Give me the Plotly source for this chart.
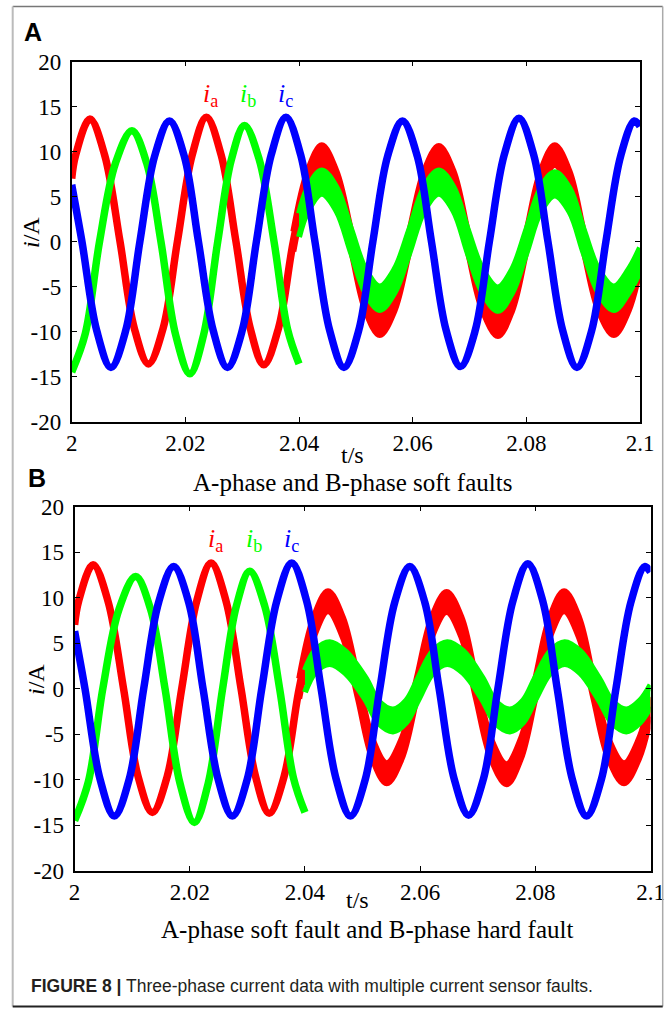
import plotly.graph_objects as go

# ---------------- data ----------------
# ia (phase A current) -- same in both panels; soft fault after ~2.039 s
IA_PRE_T = [2.0000, 2.0007, 2.0032, 2.0058, 2.0085, 2.0110, 2.0135, 2.0161, 2.0186,
            2.0212, 2.0237, 2.0263, 2.0289, 2.0314, 2.0338, 2.0364, 2.0390]
IA_PRE = [7.0, 9.6, 13.6, 9.6, 0.0, -9.6, -13.6, -9.6, 0.0,
          9.6, 13.8, 9.6, 0.0, -9.6, -13.7, -9.6, 0.0]
IA_POST_T = [2.0390, 2.0415, 2.0440, 2.0466, 2.0492, 2.0517, 2.0542, 2.0568, 2.0594,
             2.0620, 2.0646, 2.0672, 2.0697, 2.0723, 2.0750, 2.0775, 2.0800,
             2.0825, 2.0850, 2.0876, 2.0901, 2.0927, 2.0954, 2.0980, 2.1000]
IA_POST = [0.0, 6.7, 9.6, 6.7, 0.0, -6.6, -9.3, -6.6, 0.0,
           6.7, 9.5, 6.7, 0.0, -6.6, -9.4, -6.6, 0.0,
           6.7, 9.6, 6.7, 0.0, -6.6, -9.3, -6.6, -2.0]

# ib (phase B current) before the fault -- same in both panels
IB_PRE_T = [2.0000, 2.0024, 2.0049, 2.0077, 2.0106, 2.0132, 2.0157, 2.0183, 2.0208,
            2.0232, 2.0257, 2.0281, 2.0304, 2.0330, 2.0356, 2.0380, 2.0400]
IB_PRE = [-14.5, -10.2, 0.0, 8.7, 12.3, 8.7, 0.0, -10.4, -14.7,
          -10.4, 0.0, 9.1, 12.9, 9.1, 0.0, -9.8, -13.6]

# ib after the fault, panel A (soft fault)
IB_A_POST_T = [2.0400, 2.0415, 2.0440, 2.0466, 2.0492, 2.0517, 2.0542, 2.0568, 2.0594,
               2.0620, 2.0646, 2.0672, 2.0697, 2.0723, 2.0750, 2.0775, 2.0800,
               2.0825, 2.0850, 2.0876, 2.0901, 2.0927, 2.0954, 2.0980, 2.1000]
IB_A_POST = [1.8, 4.6, 6.6, 4.7, 0.0, -4.4, -6.3, -4.4, 0.0,
             4.7, 6.6, 4.7, 0.0, -4.4, -6.4, -4.4, 0.0,
             4.6, 6.4, 4.6, 0.0, -4.4, -6.3, -4.4, -2.0]

# ib after the fault, panel B (hard fault)
IB_B_POST_T = [2.0400, 2.0418, 2.0443, 2.0470, 2.0505, 2.0528, 2.0553, 2.0576, 2.0597,
               2.0622, 2.0647, 2.0675, 2.0708, 2.0731, 2.0756, 2.0779, 2.0800,
               2.0826, 2.0851, 2.0878, 2.0910, 2.0934, 2.0958, 2.0982, 2.1000]
IB_B_POST = [0.8, 3.0, 3.9, 2.9, 0.0, -2.6, -3.5, -2.5, 0.0,
             2.9, 3.9, 2.9, 0.0, -2.6, -3.5, -2.5, 0.0,
             2.9, 3.9, 2.9, 0.0, -2.6, -3.5, -2.5, -0.8]

# ic (phase C current, healthy) -- same in both panels
IC_T = [2.0000, 2.0018, 2.0044, 2.0069, 2.0095, 2.0120, 2.0146, 2.0172, 2.0198,
        2.0223, 2.0249, 2.0274, 2.0300, 2.0325, 2.0351, 2.0377, 2.0403,
        2.0428, 2.0454, 2.0479, 2.0505, 2.0530, 2.0556, 2.0582, 2.0608,
        2.0633, 2.0659, 2.0684, 2.0710, 2.0735, 2.0761, 2.0787, 2.0813,
        2.0838, 2.0864, 2.0889, 2.0915, 2.0940, 2.0966, 2.0990, 2.1000]
IC = [6.3, 0.0, -9.9, -14.0, -9.9, 0.0, 9.5, 13.4, 9.5,
      0.0, -9.9, -14.0, -9.9, 0.0, 9.6, 13.8, 9.6,
      0.0, -9.9, -14.0, -9.9, 0.0, 9.5, 13.4, 9.5,
      0.0, -9.9, -13.9, -9.9, 0.0, 9.6, 13.7, 9.6,
      0.0, -9.9, -14.0, -9.9, 0.0, 9.5, 13.4, 12.8]

# half-width of the noisy band of the faulted signals (A)
BAND_IA = 1.1
BAND_IB_A = 1.3
BAND_IB_B = 1.2

X_TICKS = [2.0, 2.02, 2.04, 2.06, 2.08, 2.1]
X_TICK_LABELS = ["2", "2.02", "2.04", "2.06", "2.08", "2.1"]
Y_TICKS = [-20, -15, -10, -5, 0, 5, 10, 15, 20]
Y_TICK_LABELS = ["-20", "-15", "-10", "-5", "0", "5", "10", "15", "20"]

SUBTITLES = ["A-phase and B-phase soft faults", "A-phase soft fault and B-phase hard fault"]
CAPTION = "<b>FIGURE 8 |</b> Three-phase current data with multiple current sensor faults."

# ---------------- styling ----------------
W, H = 668, 1009
RED, GREEN, BLUE = "#ff0000", "#00ff00", "#0000ff"
SERIF = "Liberation Serif"
SANS = "Liberation Sans"
CLEAN_W = 7.5
BAND_W = 6


def px(x):
    return x / W


def py(y):
    return 1 - y / H


# panel boxes in pixels: left, right, top, bottom
PANELS = [(71.7, 640.0, 61.5, 421.5), (74.6, 650.5, 506.5, 870.7)]

fig = go.Figure()


def clean(xa, ya, t, v, color):
    fig.add_trace(go.Scatter(x=t, y=v, mode="lines", xaxis=xa, yaxis=ya,
                             line=dict(color=color, width=CLEAN_W, shape="spline"),
                             showlegend=False, hoverinfo="skip"))


def band(xa, ya, t, v, half, color):
    up = [a + half for a in v]
    lo = [a - half for a in v]
    fig.add_trace(go.Scatter(x=t, y=up, mode="lines", xaxis=xa, yaxis=ya,
                             line=dict(color=color, width=BAND_W, shape="spline"),
                             showlegend=False, hoverinfo="skip"))
    fig.add_trace(go.Scatter(x=t, y=lo, mode="lines", xaxis=xa, yaxis=ya, fill="tonexty",
                             fillcolor=color,
                             line=dict(color=color, width=BAND_W, shape="spline"),
                             showlegend=False, hoverinfo="skip"))


for xa, ya, ib_t, ib_v, ib_band in [("x", "y", IB_A_POST_T, IB_A_POST, BAND_IB_A),
                                     ("x2", "y2", IB_B_POST_T, IB_B_POST, BAND_IB_B)]:
    # continuous red centre line underneath, noisy band over the faulted part
    clean(xa, ya, IA_PRE_T + IA_POST_T[1:], IA_PRE + IA_POST[1:], RED)
    band(xa, ya, IA_POST_T, IA_POST, BAND_IA, RED)
    clean(xa, ya, IB_PRE_T, IB_PRE, GREEN)
    band(xa, ya, ib_t, ib_v, ib_band, GREEN)
    clean(xa, ya, IC_T, IC, BLUE)

TICKFONT = dict(family=SERIF, size=23, color="black")
axis_common = dict(ticks="inside", ticklen=5, tickwidth=1.2, tickcolor="black",
                   showline=True, linecolor="black", linewidth=1.8, mirror="ticks",
                   showgrid=False, zeroline=False, automargin=False,
                   tickfont=TICKFONT)

layout = dict(width=W, height=H, margin=dict(l=0, r=0, t=0, b=0, autoexpand=False),
              paper_bgcolor="white", plot_bgcolor="white", showlegend=False,
              font=dict(family=SERIF, size=23, color="black"))

annotations = []


def note(x, y, text, font, xref="paper", yref="paper", xanchor="center", **kw):
    annotations.append(dict(x=x, y=y, xref=xref, yref=yref, showarrow=False, text=text,
                            xanchor=xanchor, yanchor="middle", font=font, **kw))


for i, (l, r, t, b) in enumerate(PANELS):
    sfx = "" if i == 0 else "2"
    layout["xaxis" + sfx] = dict(axis_common, domain=[px(l), px(r)], range=[2.0, 2.1],
                                 tickmode="array", tickvals=X_TICKS, ticktext=X_TICK_LABELS,
                                 anchor="y" + sfx)
    layout["yaxis" + sfx] = dict(axis_common, domain=[py(b), py(t)], range=[-20, 20],
                                 tickmode="array", tickvals=Y_TICKS, ticktext=Y_TICK_LABELS,
                                 anchor="x" + sfx, ticklabelstandoff=4)
    for lab, xv, col in [("a", 2.0245, RED), ("b", 2.0311, GREEN), ("c", 2.0376, BLUE)]:
        note(xv, 16.3, "<i>i</i><sub>%s</sub>" % lab,
             dict(family=SERIF, size=26, color=col), xref="x" + sfx, yref="y" + sfx)

# panel letters
note(px(33), py(32), "<b>A</b>", dict(family=SANS, size=25, color="black"))
note(px(37), py(478), "<b>B</b>", dict(family=SANS, size=25, color="black"))
# axis titles
for (xc, yc) in [(352, 455), (358, 900)]:
    note(px(xc), py(yc), "t/s", dict(family=SERIF, size=24, color="black"))
for (xc, yc) in [(31, 233), (36, 680)]:
    note(px(xc), py(yc), "<i>i</i>/A", dict(family=SERIF, size=24, color="black"),
         textangle=-90)
# subtitles
for txt, (xc, yc) in zip(SUBTITLES, [(352, 482), (367, 929)]):
    note(px(xc), py(yc), txt, dict(family=SERIF, size=25, color="black"))
# caption
note(px(29), py(986), CAPTION, dict(family=SANS, size=17.5, color="#231f20"), xanchor="left")

# outer frame
shapes = [
    dict(type="line", xref="paper", yref="paper", x0=px(12.7), x1=px(662.7), y0=py(6.5), y1=py(6.5),
         line=dict(color="#777777", width=1.5)),
    dict(type="line", xref="paper", yref="paper", x0=px(12.7), x1=px(12.7), y0=py(6.5), y1=py(1006.5),
         line=dict(color="#bbbbbb", width=2)),
    dict(type="line", xref="paper", yref="paper", x0=px(662.7), x1=px(662.7), y0=py(6.5), y1=py(1006.5),
         line=dict(color="#aaaaaa", width=1.5)),
    dict(type="line", xref="paper", yref="paper", x0=px(12.7), x1=px(662.7), y0=py(1006.5), y1=py(1006.5),
         line=dict(color="#222222", width=2)),
]

layout["annotations"] = annotations
layout["shapes"] = shapes
fig.update_layout(**layout)
fig.write_html("out.html", config={"displayModeBar": False},
               post_script="document.body.style.margin='0px';document.body.style.padding='0px';")
